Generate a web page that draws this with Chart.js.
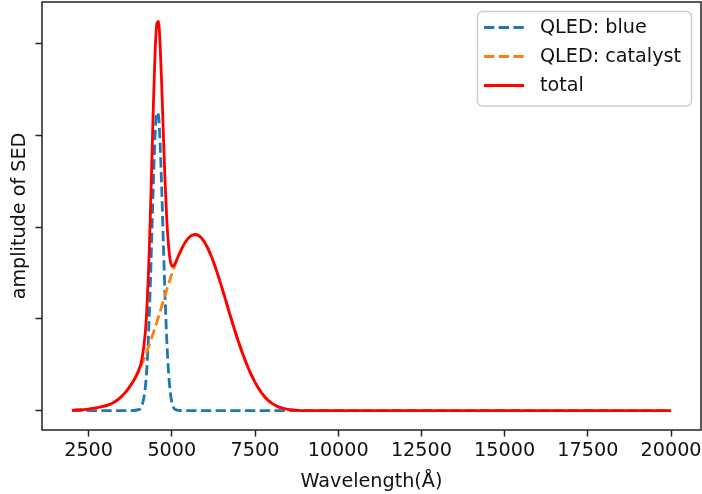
<!DOCTYPE html>
<html>
<head>
<meta charset="utf-8">
<script src="https://cdn.jsdelivr.net/npm/chart.js@4.4.1/dist/chart.umd.min.js"></script>
<style>
  html, body { margin: 0; padding: 0; background: #fff; }
  canvas { display: block; }
</style>
</head>
<body>
<canvas id="sedChart" width="702" height="494"></canvas>
<script>
// wavelength grid in Angstrom (denser around the narrow blue line)
const wavelength = [2000, 2500, 3000, 3200, 3400, 3600, 3800, 4000, 4100, 4200,
  4250, 4300, 4350, 4400, 4450, 4500, 4550, 4600, 4650, 4700,
  4750, 4800, 4850, 4900, 4950, 5000, 5050, 5100, 5200, 5300,
  5400, 5500, 5600, 5700, 5800, 5900, 6000, 6200, 6400, 6600,
  6800, 7000, 7200, 7400, 7600, 7800, 8000, 8200, 8400, 8600,
  8800, 9000, 10000, 12000, 14000, 16000, 18000, 20000];

const blueSED = [0, 0, 0, 0, 0, 0, 0, 0.01, 0.05, 0.24,
  0.46, 0.82, 1.32, 1.92, 2.52, 3.02, 3.25, 3.22, 2.90, 2.38,
  1.78, 1.22, 0.76, 0.43, 0.21, 0.09, 0.035, 0.012, 0.002, 0,
  0, 0, 0, 0, 0, 0, 0, 0, 0, 0,
  0, 0, 0, 0, 0, 0, 0, 0, 0, 0,
  0, 0, 0, 0, 0, 0, 0, 0];

const catalystSED = [0.002, 0.016, 0.052, 0.078, 0.125, 0.195, 0.295, 0.425, 0.505, 0.595,
  0.643, 0.692, 0.743, 0.797, 0.851, 0.907, 0.964, 1.023, 1.081, 1.141,
  1.200, 1.259, 1.318, 1.376, 1.433, 1.488, 1.541, 1.592, 1.686, 1.767,
  1.832, 1.880, 1.910, 1.920, 1.909, 1.878, 1.827, 1.672, 1.463, 1.226,
  0.982, 0.753, 0.552, 0.380, 0.245, 0.145, 0.080, 0.040, 0.018, 0.007,
  0.002, 0, 0, 0, 0, 0, 0, 0];

const totalSED = [0.002, 0.016, 0.052, 0.078, 0.125, 0.195, 0.295, 0.435, 0.555, 0.835,
  1.103, 1.512, 2.063, 2.717, 3.371, 3.927, 4.214, 4.243, 3.981, 3.521,
  2.980, 2.479, 2.078, 1.806, 1.643, 1.578, 1.576, 1.604, 1.688, 1.767,
  1.832, 1.880, 1.910, 1.920, 1.909, 1.878, 1.827, 1.672, 1.463, 1.226,
  0.982, 0.753, 0.552, 0.380, 0.245, 0.145, 0.080, 0.040, 0.018, 0.007,
  0.002, 0, 0, 0, 0, 0, 0, 0];

const xTicks = [2500, 5000, 7500, 10000, 12500, 15000, 17500, 20000];
const yTicks = [0, 1, 2, 3, 4];

const FONT = 'DejaVu Sans';
const FS = 19.2;

function pts(vals) {
  return wavelength.map((w, i) => ({ x: w, y: vals[i] }));
}

// matplotlib-like 5% margins
const xPad = 0.05 * (wavelength[wavelength.length - 1] - wavelength[0]);
const yMaxData = Math.max(...totalSED);

function noOverflow(axis) {
  axis.paddingTop = 0;
  axis.paddingBottom = 0;
  axis.paddingLeft = 0;
  axis.paddingRight = 0;
}

// spines drawn on top of the lines, like matplotlib
const framePlugin = {
  id: 'frame',
  afterDatasetsDraw(chart) {
    const { ctx, chartArea: a } = chart;
    ctx.save();
    ctx.strokeStyle = '#222';
    ctx.lineWidth = 1.5;
    ctx.strokeRect(a.left, a.top, a.right - a.left, a.bottom - a.top);
    ctx.restore();
  }
};

// legend box in upper right corner
const boxLegend = {
  id: 'boxLegend',
  afterDraw(chart) {
    const ctx = chart.ctx;
    ctx.save();
    ctx.fillStyle = 'rgba(255,255,255,0.8)';
    ctx.strokeStyle = '#cccccc';
    ctx.lineWidth = 1.5;
    ctx.beginPath();
    ctx.roundRect(477.5, 11.5, 214, 94.5, 5);
    ctx.fill();
    ctx.stroke();
    ctx.font = FS + 'px "' + FONT + '"';
    ctx.textBaseline = 'middle';
    chart.data.datasets.forEach((ds, i) => {
      const y = 27.5 + i * 29;
      ctx.strokeStyle = ds.borderColor;
      ctx.lineWidth = ds.borderWidth;
      ctx.lineCap = 'butt';
      ctx.setLineDash(ds.borderDash || []);
      ctx.beginPath();
      ctx.moveTo(484, y);
      ctx.lineTo(524, y);
      ctx.stroke();
      ctx.setLineDash([]);
      ctx.fillStyle = '#111';
      ctx.fillText(ds.label, 540, y + 0.5);
    });
    ctx.restore();
  }
};

const ctx = document.getElementById('sedChart').getContext('2d');
new Chart(ctx, {
  type: 'line',
  data: {
    datasets: [
      {
        label: 'QLED: blue',
        data: pts(blueSED),
        borderColor: '#1f77b4',
        borderWidth: 2.8,
        borderDash: [10.3, 4.4],
        cubicInterpolationMode: 'monotone',
        order: 2
      },
      {
        label: 'QLED: catalyst',
        data: pts(catalystSED),
        borderColor: '#ff7f0e',
        borderWidth: 2.8,
        borderDash: [10.3, 4.4],
        cubicInterpolationMode: 'monotone',
        order: 1
      },
      {
        label: 'total',
        data: pts(totalSED),
        borderColor: '#ff0000',
        borderWidth: 2.8,
        cubicInterpolationMode: 'monotone',
        order: 0
      }
    ]
  },
  options: {
    responsive: false,
    animation: false,
    devicePixelRatio: 1,
    layout: { padding: { top: 2, right: 1, left: 0, bottom: 0 } },
    elements: { point: { radius: 0 } },
    plugins: {
      legend: { display: false },
      tooltip: { enabled: false }
    },
    scales: {
      x: {
        type: 'linear',
        min: wavelength[0] - xPad,
        max: wavelength[wavelength.length - 1] + xPad,
        afterBuildTicks: axis => { axis.ticks = xTicks.map(v => ({ value: v })); },
        afterFit: axis => { axis.height = 64; noOverflow(axis); },
        border: { display: false },
        grid: {
          drawOnChartArea: false,
          tickLength: 6.5,
          tickWidth: 1.5,
          tickColor: '#222'
        },
        ticks: {
          autoSkip: false,
          maxRotation: 0,
          padding: 3,
          color: '#111',
          callback: v => String(v),
          font: { family: FONT, size: FS }
        },
        title: {
          display: true,
          text: 'Wavelength(Å)',
          color: '#111',
          font: { family: FONT, size: FS },
          padding: { top: 0, bottom: 0 }
        }
      },
      y: {
        min: -0.05 * yMaxData,
        max: 1.05 * yMaxData,
        afterBuildTicks: axis => { axis.ticks = yTicks.map(v => ({ value: v })); },
        afterFit: axis => { axis.width = 42; noOverflow(axis); },
        border: { display: false },
        grid: {
          drawOnChartArea: false,
          tickLength: 6.5,
          tickWidth: 1.5,
          tickColor: '#222'
        },
        ticks: {
          callback: () => '',
          font: { family: FONT, size: FS }
        },
        title: {
          display: true,
          text: 'amplitude of SED',
          color: '#111',
          font: { family: FONT, size: FS },
          padding: { top: 8, bottom: 0 }
        }
      }
    }
  },
  plugins: [framePlugin, boxLegend]
});
</script>
</body>
</html>
